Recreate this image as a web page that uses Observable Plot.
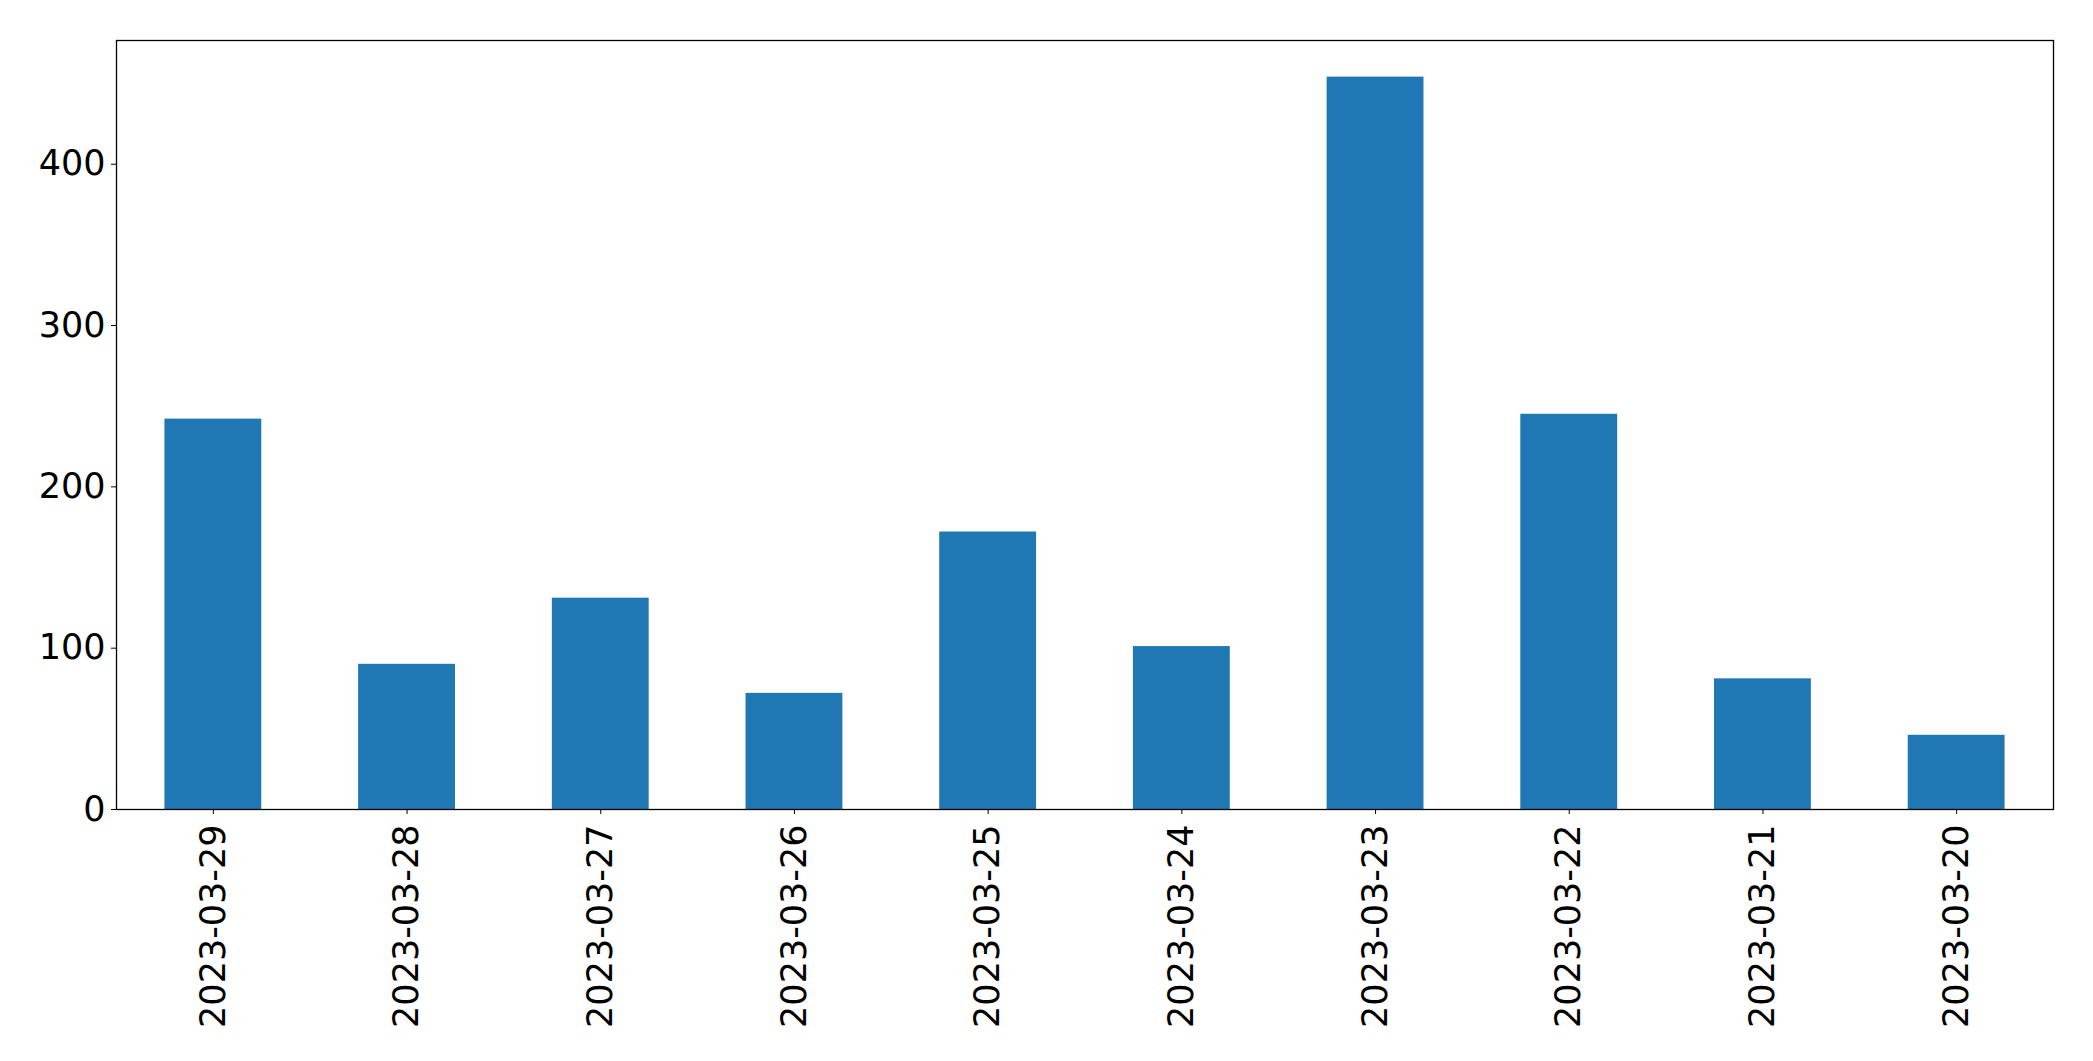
<!DOCTYPE html>
<html>
<head>
<meta charset="utf-8">
<script src="https://cdn.jsdelivr.net/npm/d3@7"></script>
<script src="https://cdn.jsdelivr.net/npm/@observablehq/plot@0.6"></script>
<style>
  html, body { margin: 0; padding: 0; background: #fff; overflow: hidden; }
  #chart svg { display: block; }
</style>
</head>
<body>
<div id="chart"></div>
<script>
const dates = ["2023-03-29", "2023-03-28", "2023-03-27", "2023-03-26", "2023-03-25",
               "2023-03-24", "2023-03-23", "2023-03-22", "2023-03-21", "2023-03-20"];
const counts = [242, 90, 131, 72, 172, 101, 454, 245, 81, 46];
const yTicks = [0, 100, 200, 300, 400];

const data = dates.map((d, i) => ({date: d, value: counts[i]}));
const yMax = d3.max(counts) * 1.05;

const chart = Plot.plot({
  width: 2093,
  height: 1061,
  marginLeft: 116,
  marginRight: 40,
  marginTop: 40,
  marginBottom: 252,
  style: {fontFamily: "DejaVu Sans", fontSize: "35px", color: "#000", background: "#fff"},
  x: {type: "band", domain: dates, paddingInner: 0.5, paddingOuter: 0.25, round: false, label: null},
  y: {domain: [0, yMax], label: null},
  marks: [
    Plot.barY(data, {x: "date", y: "value", fill: "#1f77b4"}),
    Plot.frame({stroke: "#000", strokeWidth: 1.3}),
    Plot.axisY(yTicks, {tickSize: 5, tickPadding: 6, fontSize: 35, label: null, stroke: "#000", fill: "#000"}),
    Plot.axisX({tickSize: 5, tickPadding: 10, tickRotate: -90, fontSize: 35, label: null, stroke: "#000", fill: "#000"})
  ]
});
document.getElementById("chart").appendChild(chart);
</script>
</body>
</html>
